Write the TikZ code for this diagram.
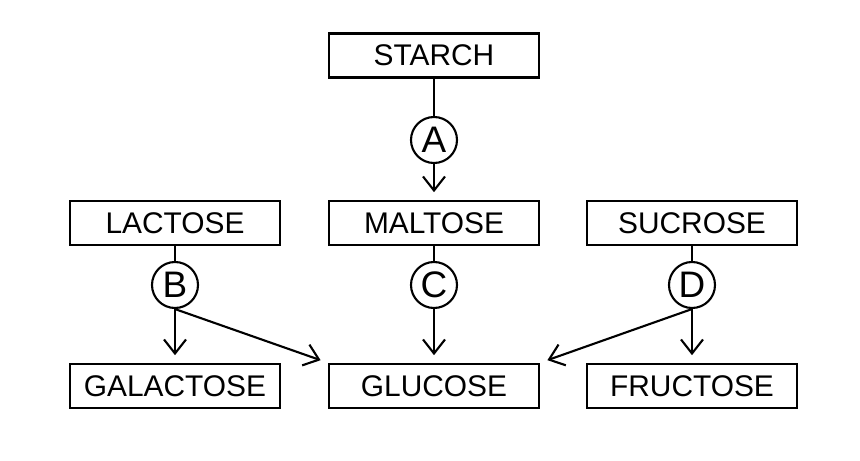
\documentclass[tikz,border=0pt]{standalone}
\usepackage{fontspec}
\setmainfont{Liberation Sans}
\usetikzlibrary{arrows.meta}
\tikzset{
  sugar/.style={draw, line width=1.5pt, minimum width=4.2cm, minimum height=0.88cm, inner sep=0pt, font=\fontsize{17}{20}\selectfont},
  enzyme/.style={draw, circle, line width=1.2pt, minimum size=0.92cm, inner sep=0pt, font=\fontsize{21}{24}\selectfont},
  flow/.style={line width=1.2pt, -{Straight Barb[length=2.8mm,width=4.4mm]}, shorten >=1.5mm}
}

\begin{document}
\begin{tikzpicture}
\useasboundingbox (0,0) rectangle (17.2,9.2);
\node[sugar] (starch) at (8.68,8.09) {STARCH};
\node[sugar] (lactose) at (3.5,4.74) {LACTOSE};
\node[sugar] (maltose) at (8.68,4.74) {MALTOSE};
\node[sugar] (sucrose) at (13.84,4.74) {SUCROSE};
\node[sugar] (galactose) at (3.5,1.48) {GALACTOSE};
\node[sugar] (glucose) at (8.68,1.48) {GLUCOSE};
\node[sugar] (fructose) at (13.84,1.48) {FRUCTOSE};
\node[enzyme] (enzA) at (8.68,6.4) {A};
\node[enzyme] (enzB) at (3.5,3.5) {B};
\node[enzyme] (enzC) at (8.68,3.5) {C};
\node[enzyme] (enzD) at (13.84,3.5) {D};
\draw[line width=1.2pt] (starch) -- (enzA);
\draw[line width=1.2pt] (lactose) -- (enzB);
\draw[line width=1.2pt] (maltose) -- (enzC);
\draw[line width=1.2pt] (sucrose) -- (enzD);
\draw[flow] (enzA) -- (maltose);
\draw[flow] (enzB) -- (galactose);
\draw[flow] (enzC) -- (glucose);
\draw[flow] (enzD) -- (fructose);
\draw[flow] (enzB.south) -- (glucose.north west);
\draw[flow] (enzD.south) -- (glucose.north east);
\end{tikzpicture}
\end{document}
